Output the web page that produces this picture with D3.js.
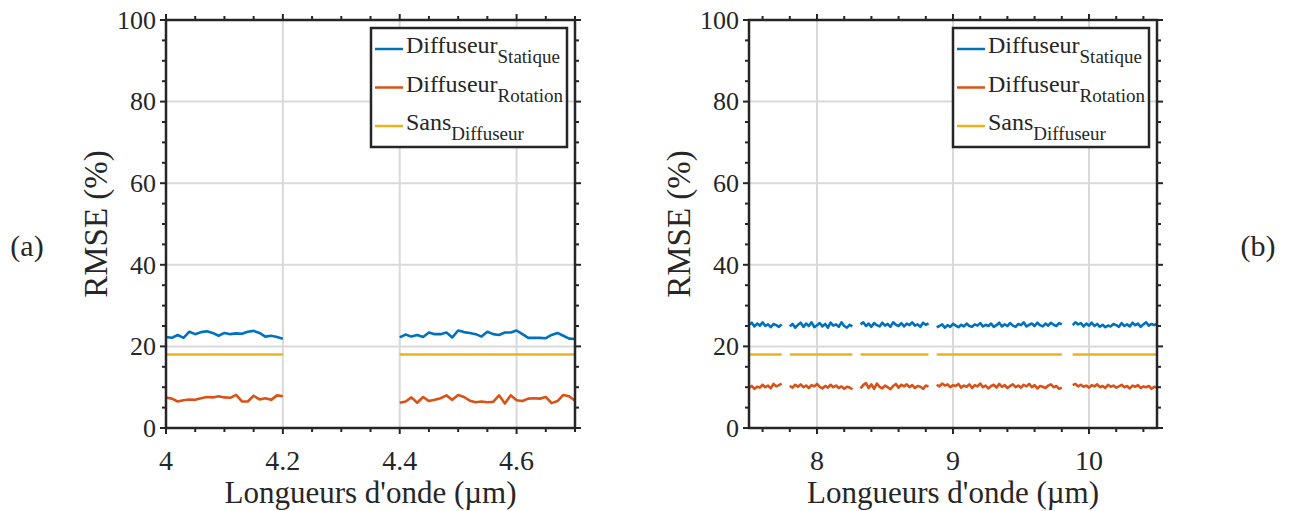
<!DOCTYPE html>
<html><head><meta charset="utf-8">
<script src="https://cdn.jsdelivr.net/npm/d3@7/dist/d3.min.js"></script>
<style>
body{margin:0;background:#fff}
svg{display:block}
</style>
</head><body>
<svg id="chart" width="1290" height="511"></svg>
<script>
// ---------- data ----------
const seriesMain = ["Diffuseur", "Diffuseur", "Sans"];
const seriesSub = ["Statique", "Rotation", "Diffuseur"];
const seriesColors = ["#0072BD", "#D95319", "#EDB120"];
const yTicks = [0, 20, 40, 60, 80, 100];
const yMinorStep = 5;
const panelLabels = ["(a)", "(b)"];
const xAxisTitle = "Longueurs d'onde (\u00b5m)";
const yAxisTitle = "RMSE (%)";

// panel (a): 4.00 .. 4.70 step 0.01 (null = no data)
const aStart = 4.0, aStep = 0.01;
const aDomain = [4.0, 4.7];
const aXTicks = [4, 4.2, 4.4, 4.6];
const aXMinorStep = 0.05;
const aStatique = [
  22.3, 22.1, 22.8, 22.1, 23.6, 23.0, 23.5, 23.7, 23.3, 22.6,
  23.3, 23.0, 23.2, 23.1, 23.6, 23.8, 23.3, 22.4, 22.6, 22.3, 21.9,
  null, null, null, null, null, null, null, null, null, null,
  null, null, null, null, null, null, null, null, null,
  22.2, 22.9, 22.4, 22.8, 22.3, 23.4, 23.0, 23.0, 23.4, 22.2,
  23.9, 23.5, 23.3, 23.0, 22.4, 23.6, 23.0, 22.8, 23.4, 23.4,
  23.9, 23.0, 22.1, 22.1, 22.1, 22.0, 22.8, 23.3, 22.6, 21.9, 21.8
];
const aRotation = [
  7.5, 7.2, 6.5, 6.8, 7.0, 6.9, 7.3, 7.6, 7.5, 7.8,
  7.5, 7.4, 8.1, 6.5, 6.5, 7.9, 7.0, 7.3, 6.9, 8.0, 7.8,
  null, null, null, null, null, null, null, null, null, null,
  null, null, null, null, null, null, null, null, null,
  6.2, 6.5, 7.5, 6.2, 7.6, 6.6, 6.9, 7.3, 8.0, 6.9,
  8.1, 7.6, 6.7, 6.3, 6.5, 6.3, 6.4, 8.0, 6.0, 8.0,
  6.8, 6.6, 7.2, 7.3, 7.2, 7.6, 6.1, 6.6, 8.1, 7.8, 6.7
];
const aSans = 18;

// panel (b): 7.50 .. 10.50 step 0.02 (null = no data)
const bStart = 7.5, bStep = 0.02;
const bDomain = [7.5, 10.5];
const bXTicks = [8, 9, 10];
const bXMinorStep = 0.2;
const bStatique = [
  25.3, 25.8, 24.9, 25.6, 25.1, 25.9, 25.0, 25.4, 24.7, 25.5,
  25.2, 24.8, 25.4, null, null, 24.9, 25.5, 24.6, 25.3, 25.8,
  24.8, 25.6, 25.0, 25.9, 24.7, 25.2, 25.7, 24.9, 25.5, 24.6,
  25.8, 25.1, 25.4, 24.8, 25.9, 25.0, 24.6, 25.3, 24.9, null,
  null, 25.4, 25.9, 25.0, 25.6, 24.8, 25.7, 25.2, 24.9, 25.8,
  25.1, 25.5, 24.8, 25.9, 25.3, 25.0, 25.7, 24.9, 25.6, 25.2,
  25.9, 25.1, 25.4, 24.8, 25.8, 25.3, 25.6, null, null, 24.7,
  25.0, 25.4, 24.6, 25.2, 24.8, 25.5, 25.1, 24.7, 25.3, 24.9,
  25.6, 25.0, 24.8, 25.4, 25.1, 25.7, 24.9, 25.3, 25.0, 25.6,
  24.8, 25.2, 25.8, 24.9, 25.4, 25.0, 25.7, 25.1, 24.8, 25.5,
  25.2, 25.9, 24.9, 25.3, 25.6, 25.0, 25.8, 25.2, 24.9, 25.6,
  25.1, 25.8, 25.3, 25.0, 25.7, 25.4, null, null, null, 25.2,
  25.9, 25.4, 25.7, 24.9, 25.6, 25.1, 25.8, 25.0, 25.5, 24.8,
  25.3, 24.7, 25.1, 24.9, 25.5, 25.2, 24.8, 25.7, 25.0, 25.4,
  24.9, 25.8, 25.2, 25.6, 24.8, 25.4, 25.9, 25.1, 25.5, 25.2,
  25.6
];
const bRotation = [
  9.8, 10.3, 9.6, 10.1, 9.9, 10.6, 10.0, 10.4, 9.7, 10.8,
  10.2, 10.5, 10.9, null, null, 10.3, 9.9, 10.6, 10.1, 10.7,
  10.0, 10.4, 9.8, 10.5, 10.2, 10.8, 10.1, 9.7, 10.3, 9.9,
  10.6, 10.0, 10.4, 9.8, 10.2, 9.6, 10.1, 9.9, 9.5, null,
  null, 9.7, 10.5, 11.0, 9.8, 10.7, 9.6, 10.9, 10.1, 9.7,
  10.4, 10.0, 9.5, 10.3, 10.8, 9.9, 10.6, 10.2, 10.7, 10.0,
  10.5, 9.8, 10.3, 10.1, 9.6, 10.4, 10.2, null, null, 10.6,
  10.2, 10.9, 10.4, 10.7, 10.0, 10.5, 10.3, 10.8, 9.9, 10.4,
  10.1, 10.7, 9.8, 10.5, 10.2, 10.9, 10.0, 10.4, 9.7, 10.3,
  10.6, 9.9, 10.8, 10.1, 10.5, 9.8, 10.3, 10.7, 10.0, 10.4,
  9.9, 10.6, 10.2, 10.8, 10.0, 10.5, 9.7, 10.3, 10.1, 9.8,
  10.4, 10.7, 10.0, 10.3, 9.6, 9.9, null, null, null, 10.5,
  10.8, 10.2, 10.6, 10.1, 10.4, 9.9, 10.5, 10.2, 10.7, 10.0,
  10.3, 9.8, 10.6, 10.1, 10.4, 9.9, 10.2, 10.6, 10.0, 10.3,
  9.7, 10.4, 10.1, 10.5, 9.8, 10.2, 10.0, 10.3, 9.6, 10.1,
  9.9
];
const bSans = 18;

// ---------- drawing ----------
const svg = d3.select("#chart");
const AX = "#262626";
const FONT = "'Liberation Serif', 'Times New Roman', serif";
const plotTop = 20, plotBottom = 428;

function txt(sel) {
  return sel.attr("font-family", FONT).attr("fill", AX);
}

function drawPanel(o) {
  const x = d3.scaleLinear().domain(o.domain).range([o.left, o.right]);
  const y = d3.scaleLinear().domain([0, 100]).range([plotBottom, plotTop]);
  const g = svg.append("g");

  // grid
  g.selectAll(".gx").data(o.xTicks.filter(v => v > o.domain[0] && v < o.domain[1]))
    .enter().append("line")
    .attr("x1", d => x(d)).attr("x2", d => x(d)).attr("y1", plotTop).attr("y2", plotBottom)
    .attr("stroke", "#d9d9d9").attr("stroke-width", 2);
  g.selectAll(".gy").data(yTicks.filter(v => v > 0 && v < 100))
    .enter().append("line")
    .attr("y1", d => y(d)).attr("y2", d => y(d)).attr("x1", o.left).attr("x2", o.right)
    .attr("stroke", "#d9d9d9").attr("stroke-width", 2);

  // data
  const idx = (i) => o.start + i * o.step;
  const line = d3.line().defined(d => d.v !== null).x(d => x(d.w)).y(d => y(d.v));
  const mk = arr => arr.map((v, i) => ({ w: idx(i), v: v }));
  const sans = o.statique.map((v, i) => ({ w: idx(i), v: v === null ? null : o.sans }));
  [[mk(o.statique), 0], [mk(o.rotation), 1], [sans, 2]].forEach(([d, k]) => {
    g.append("path").datum(d).attr("d", line).attr("fill", "none")
      .attr("stroke", seriesColors[k]).attr("stroke-width", 2.6)
      .attr("stroke-linejoin", "round");
  });

  // ticks
  const xMinor = d3.range(Math.round(o.domain[0] / o.xMinorStep), Math.round(o.domain[1] / o.xMinorStep) + 1)
    .map(k => +(k * o.xMinorStep).toFixed(4))
    .filter(v => v >= o.domain[0] - 1e-9 && v <= o.domain[1] + 1e-9);
  const yMinor = d3.range(0, 101, yMinorStep);
  const tk = g.append("g").attr("stroke", AX).attr("stroke-width", 2);
  const isMajorX = v => o.xTicks.some(t => Math.abs(t - v) < 1e-6);
  const isMajorY = v => yTicks.indexOf(v) >= 0;
  xMinor.forEach(v => {
    const L = isMajorX(v) ? 6 : 4;
    tk.append("line").attr("x1", x(v)).attr("x2", x(v)).attr("y1", plotBottom).attr("y2", plotBottom + L);
    tk.append("line").attr("x1", x(v)).attr("x2", x(v)).attr("y1", plotTop).attr("y2", plotTop - L);
  });
  yMinor.forEach(v => {
    const L = isMajorY(v) ? 6 : 4;
    tk.append("line").attr("y1", y(v)).attr("y2", y(v)).attr("x1", o.left).attr("x2", o.left - L);
    tk.append("line").attr("y1", y(v)).attr("y2", y(v)).attr("x1", o.right).attr("x2", o.right + L);
  });

  // box
  g.append("rect").attr("x", o.left).attr("y", plotTop).attr("width", o.right - o.left)
    .attr("height", plotBottom - plotTop).attr("fill", "none").attr("stroke", AX).attr("stroke-width", 2.5);

  // tick labels
  txt(g.selectAll(".xt").data(o.xTicks).enter().append("text"))
    .attr("x", d => x(d)).attr("y", 470).attr("text-anchor", "middle")
    .attr("font-size", 28).text(d => d3.format("")(d));
  txt(g.selectAll(".yt").data(yTicks).enter().append("text"))
    .attr("x", o.left - 10).attr("y", d => y(d)).attr("dy", "0.34em").attr("text-anchor", "end")
    .attr("font-size", 26).text(d => d);

  // axis titles
  txt(g.append("text")).attr("x", (o.left + o.right) / 2).attr("y", 503).attr("text-anchor", "middle")
    .attr("font-size", 31).text(xAxisTitle);
  txt(g.append("text")).attr("transform", `translate(${o.left - 59},${(plotTop + plotBottom) / 2}) rotate(-90)`)
    .attr("text-anchor", "middle").attr("font-size", 33).text(yAxisTitle);

  // legend
  const bx = o.right - 8 - 196, by = 28;
  g.append("rect").attr("x", bx).attr("y", by).attr("width", 196).attr("height", 119)
    .attr("fill", "#fff").attr("stroke", AX).attr("stroke-width", 2.5);
  [0, 1, 2].forEach(k => {
    const base = by + 25 + k * 38.5;
    g.append("line").attr("x1", bx + 4).attr("x2", bx + 32)
      .attr("y1", base - 4).attr("y2", base - 4)
      .attr("stroke", seriesColors[k]).attr("stroke-width", 2.5);
    const t = txt(g.append("text")).attr("x", bx + 35).attr("y", base).attr("font-size", 24);
    t.append("tspan").text(seriesMain[k]);
    t.append("tspan").attr("dy", 10).attr("font-size", 19).text(seriesSub[k]);
  });

  // panel label
  txt(svg.append("text")).attr("x", o.labelX).attr("y", 256).attr("text-anchor", "middle")
    .attr("font-size", 30).text(o.label);
}

drawPanel({ left: 166, right: 575, domain: aDomain, xTicks: aXTicks, xMinorStep: aXMinorStep,
  start: aStart, step: aStep, statique: aStatique, rotation: aRotation, sans: aSans,
  label: panelLabels[0], labelX: 27 });
drawPanel({ left: 749, right: 1157, domain: bDomain, xTicks: bXTicks, xMinorStep: bXMinorStep,
  start: bStart, step: bStep, statique: bStatique, rotation: bRotation, sans: bSans,
  label: panelLabels[1], labelX: 1258 });
</script>
</body></html>
